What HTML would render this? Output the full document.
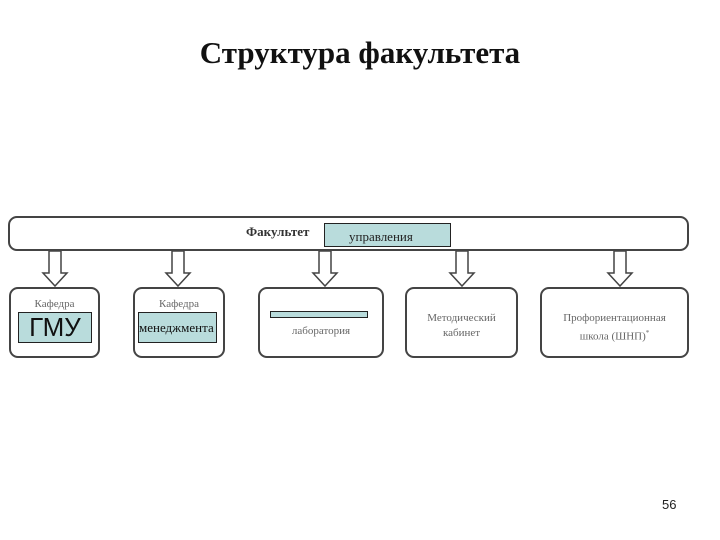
<!DOCTYPE html>
<html><head><meta charset="utf-8"><style>
body{margin:0;width:720px;height:540px;background:#fff;position:relative;overflow:hidden;font-family:"Liberation Serif",serif}
.a{position:absolute}
.box{position:absolute;border:2px solid #444;border-radius:9px;background:#fff;box-sizing:border-box;text-align:center;color:#666;font-size:11px}
.t{position:absolute;background:#b9dcdc;border:1.5px solid #222;box-sizing:border-box}
</style></head><body>
<div class="a" style="left:0;width:720px;top:35px;text-align:center;font-size:31px;font-weight:bold;color:#111">Структура факультета</div>
<div class="box" style="left:8px;top:216px;width:681px;height:35px;border-width:2px"></div>
<div class="a" style="left:246px;top:224px;font-size:13px;font-weight:bold;color:#333">Факультет</div>
<div class="t" style="left:324px;top:223px;width:127px;height:24px;font-size:13px;padding:5px 0 0 24px;color:#222">управления</div>
<svg class="a" style="left:0;top:0" width="720" height="540">
<g fill="#fff" stroke="#444" stroke-width="1.5">
<path d="M49 251V273H43L55 286L67 273H61V251Z"/>
<path d="M172 251V273H166L178 286L190 273H184V251Z"/>
<path d="M319 251V273H313L325 286L337 273H331V251Z"/>
<path d="M456 251V273H450L462 286L474 273H468V251Z"/>
<path d="M614 251V273H608L620 286L632 273H626V251Z"/>
</g></svg>
<div class="box" style="left:9px;top:287px;width:91px;height:71px;padding-top:9px">Кафедра</div>
<div class="t" style="left:18px;top:312px;width:74px;height:31px;font-family:'Liberation Sans',sans-serif;font-size:26px;color:#111;text-align:center;line-height:29px">ГМУ</div>
<div class="box" style="left:133px;top:287px;width:92px;height:71px;padding-top:9px">Кафедра</div>
<div class="t" style="left:138px;top:312px;width:79px;height:31px;font-size:13px;color:#111;line-height:29px;white-space:nowrap;overflow:hidden">менеджмента</div>
<div class="box" style="left:258px;top:287px;width:126px;height:71px;padding-top:36px">лаборатория</div>
<div class="t" style="left:270px;top:311px;width:98px;height:7px"></div>
<div class="box" style="left:405px;top:287px;width:113px;height:71px;padding-top:22px;line-height:15px">Методический<br>кабинет</div>
<div class="box" style="left:540px;top:287px;width:149px;height:71px;padding-top:22px;line-height:15px">Профориентационная<br>школа (ШНП)<sup style="font-size:7px">*</sup></div>
<div class="a" style="left:662px;top:497px;font-family:'Liberation Sans',sans-serif;font-size:13px;color:#222">56</div>
</body></html>
